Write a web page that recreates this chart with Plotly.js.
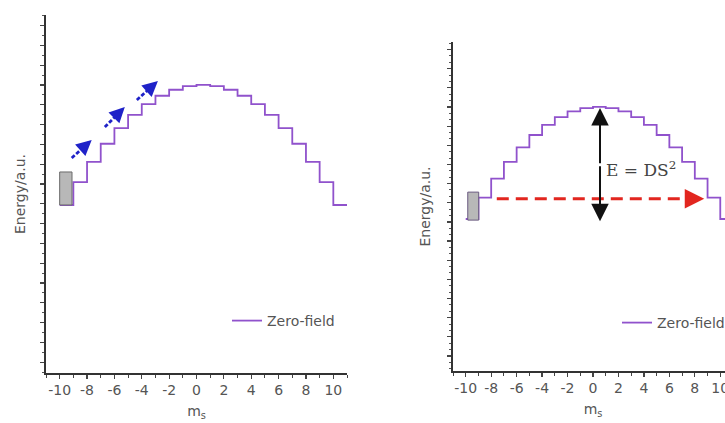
<!DOCTYPE html>
<html>
<head>
<meta charset="utf-8">
<script src="https://cdn.plot.ly/plotly-3.0.1.min.js"></script>
<style>
html,body{margin:0;padding:0;background:#fff;overflow:hidden;width:725px;height:423px;}
#chart{width:760px;height:423px;}
</style>
</head>
<body>
<div id="chart"></div>
<script>
// spin projection m_s (step edges) and level energies (a.u.)
const ms = [-10,-9,-8,-7,-6,-5,-4,-3,-2,-1,0,1,2,3,4,5,6,7,8,9,10,11];
const energy = [-100,-81,-64,-49,-36,-25,-16,-9,-4,-1,0,-1,-4,-9,-16,-25,-36,-49,-64,-81,-100,-100];
const seriesName = 'Zero-field';
const tickValues = [-10,-8,-6,-4,-2,0,2,4,6,8,10];
const tickLabels = ['-10','-8','-6','-4','-2','0','2','4','6','8','10'];

// left panel: blue tunnelling arrows (tail m, tail E, head m, head E)
const blueTailM = [-9.12,-6.70,-4.36];
const blueTailE = [-60.8,-35.0,-12.5];
const blueHeadM = [-7.66,-5.24,-2.82];
const blueHeadE = [-45.8,-18.3,3.3];
// initial-state boxes [m0, m1, E0, E1]
const boxLeft = [-10,-9.1,-100,-72.5];
const boxRight = [-9.84,-8.98,-101,-76];
// right panel: barrier arrow and thermal arrow
const barrierM = 0.55, barrierTop = -1, barrierBottom = -102;
const thermalE = -82, thermalStart = -7.56, thermalEnd = 8.74;
const barrierLabel = 'E = DS<sup>2</sup>';

const W = 760, H = 423;
const font = {family:'DejaVu Sans, Arial, sans-serif', size:14, color:'#555'};
const purple = '#9052cc';

const traces = [
  {x: ms, y: energy, xaxis:'x', yaxis:'y', type:'scatter', mode:'lines',
   line:{shape:'hv', color:purple, width:1.8}, name:seriesName, legend:'legend'},
  {x: ms, y: energy, xaxis:'x2', yaxis:'y2', type:'scatter', mode:'lines',
   line:{shape:'hv', color:purple, width:1.8}, name:seriesName, legend:'legend2'}
];

function xax(domain, anchor){
  return {domain:domain, anchor:anchor, range:[-11,11], tickmode:'array',
    tickvals:tickValues, ticktext:tickLabels, ticks:'outside', ticklen:4, tickwidth:1.2,
    tickcolor:'#444', showline:true, linecolor:'#333', linewidth:1.6, showgrid:false,
    zeroline:false, tickfont:font,
    minor:{dtick:1, tick0:0, ticks:'outside', ticklen:3, tickcolor:'#444', tickwidth:1, showgrid:false},
    title:{text:'m<sub>s</sub>', font:font, standoff:9}};
}
function yax(domain, anchor, range, dt, mdt, so){
  return {domain:domain, anchor:anchor, range:range, tick0:0, dtick:dt, ticks:'outside',
    ticklen:4, tickwidth:1.2, tickcolor:'#444', showline:true, linecolor:'#333', linewidth:1.6,
    showgrid:false, zeroline:false, showticklabels:false,
    minor:{dtick:mdt, tick0:0, ticks:'outside', ticklen:2.5, tickcolor:'#555', tickwidth:1, showgrid:false},
    title:{text:'Energy/a.u.', font:font, standoff:so}};
}

const shapes = [];
const annotations = [];
for (let i=0;i<blueTailM.length;i++){
  const fx = 0.72;
  shapes.push({type:'line', xref:'x', yref:'y', x0:blueTailM[i], y0:blueTailE[i],
    x1:blueTailM[i]+(blueHeadM[i]-blueTailM[i])*0.8, y1:blueTailE[i]+(blueHeadE[i]-blueTailE[i])*0.8,
    line:{color:'#1f22c8', width:2.8, dash:'4px,2px'}});
  annotations.push({xref:'x', yref:'y', axref:'x', ayref:'y', x:blueHeadM[i], y:blueHeadE[i],
    ax:blueTailM[i]+(blueHeadM[i]-blueTailM[i])*fx, ay:blueTailE[i]+(blueHeadE[i]-blueTailE[i])*fx,
    text:'', showarrow:true, arrowhead:2, arrowsize:1.1, arrowwidth:2.8, arrowcolor:'#1f22c8'});
}
shapes.push({type:'rect', xref:'x', yref:'y', x0:boxLeft[0], x1:boxLeft[1], y0:boxLeft[2], y1:boxLeft[3],
  fillcolor:'#b8b8b8', line:{color:'#6a6a6a', width:1}});
shapes.push({type:'rect', xref:'x2', yref:'y2', x0:boxRight[0], x1:boxRight[1], y0:boxRight[2], y1:boxRight[3],
  fillcolor:'#b8b8b8', line:{color:'#6a5a80', width:1}});
// red dashed thermal arrow
shapes.push({type:'line', xref:'x2', yref:'y2', x0:thermalStart, x1:thermalEnd-0.7, y0:thermalE, y1:thermalE,
  line:{color:'#e2261f', width:3, dash:'12px,7px'}});
annotations.push({xref:'x2', yref:'y2', axref:'x2', ayref:'y2', x:thermalEnd, y:thermalE,
  ax:thermalEnd-1.0, ay:thermalE, text:'', showarrow:true, arrowhead:2, arrowsize:1.5,
  arrowwidth:2.6, arrowcolor:'#e2261f'});
// black double arrow
const mid = (barrierTop+barrierBottom)/2;
annotations.push({xref:'x2', yref:'y2', axref:'x2', ayref:'y2', x:barrierM, y:barrierTop, ax:barrierM, ay:mid,
  text:'', showarrow:true, arrowhead:2, arrowsize:1.75, arrowwidth:2, arrowcolor:'#111'});
annotations.push({xref:'x2', yref:'y2', axref:'x2', ayref:'y2', x:barrierM, y:barrierBottom, ax:barrierM, ay:mid,
  text:'', showarrow:true, arrowhead:2, arrowsize:1.75, arrowwidth:2, arrowcolor:'#111'});
annotations.push({xref:'x2', yref:'y2', x:barrierM+0.3, y:-55, xanchor:'left', yanchor:'middle',
  text:barrierLabel, showarrow:false, font:{family:'DejaVu Serif, Liberation Serif, serif', size:17, color:'#444'}});

const layout = {
  width:W, height:H, margin:{l:0,r:0,t:0,b:0}, paper_bgcolor:'#fff', plot_bgcolor:'#fff',
  showlegend:true, hovermode:false,
  xaxis: xax([46/W, 347/W], 'y'),
  yaxis: yax([1-373/H, 1-15/H], 'x', [-240, 58.3], 16.5, 8.25, 11),
  xaxis2: xax([453/W, 733/W], 'y2'),
  yaxis2: yax([1-371/H, 1-42/H], 'x2', [-235.7, 58], 17.1, 5.7, 13),
  legend:{x:227/W, y:1-321/H, xanchor:'left', yanchor:'middle', bgcolor:'rgba(0,0,0,0)',
    font:{family:'DejaVu Sans, Arial, sans-serif', size:14, color:'#555'}},
  legend2:{x:617/W, y:1-323/H, xanchor:'left', yanchor:'middle', bgcolor:'rgba(0,0,0,0)',
    font:{family:'DejaVu Sans, Arial, sans-serif', size:14, color:'#555'}},
  shapes:shapes, annotations:annotations
};
Plotly.newPlot('chart', traces, layout, {staticPlot:true, displayModeBar:false});
</script>
</body>
</html>
